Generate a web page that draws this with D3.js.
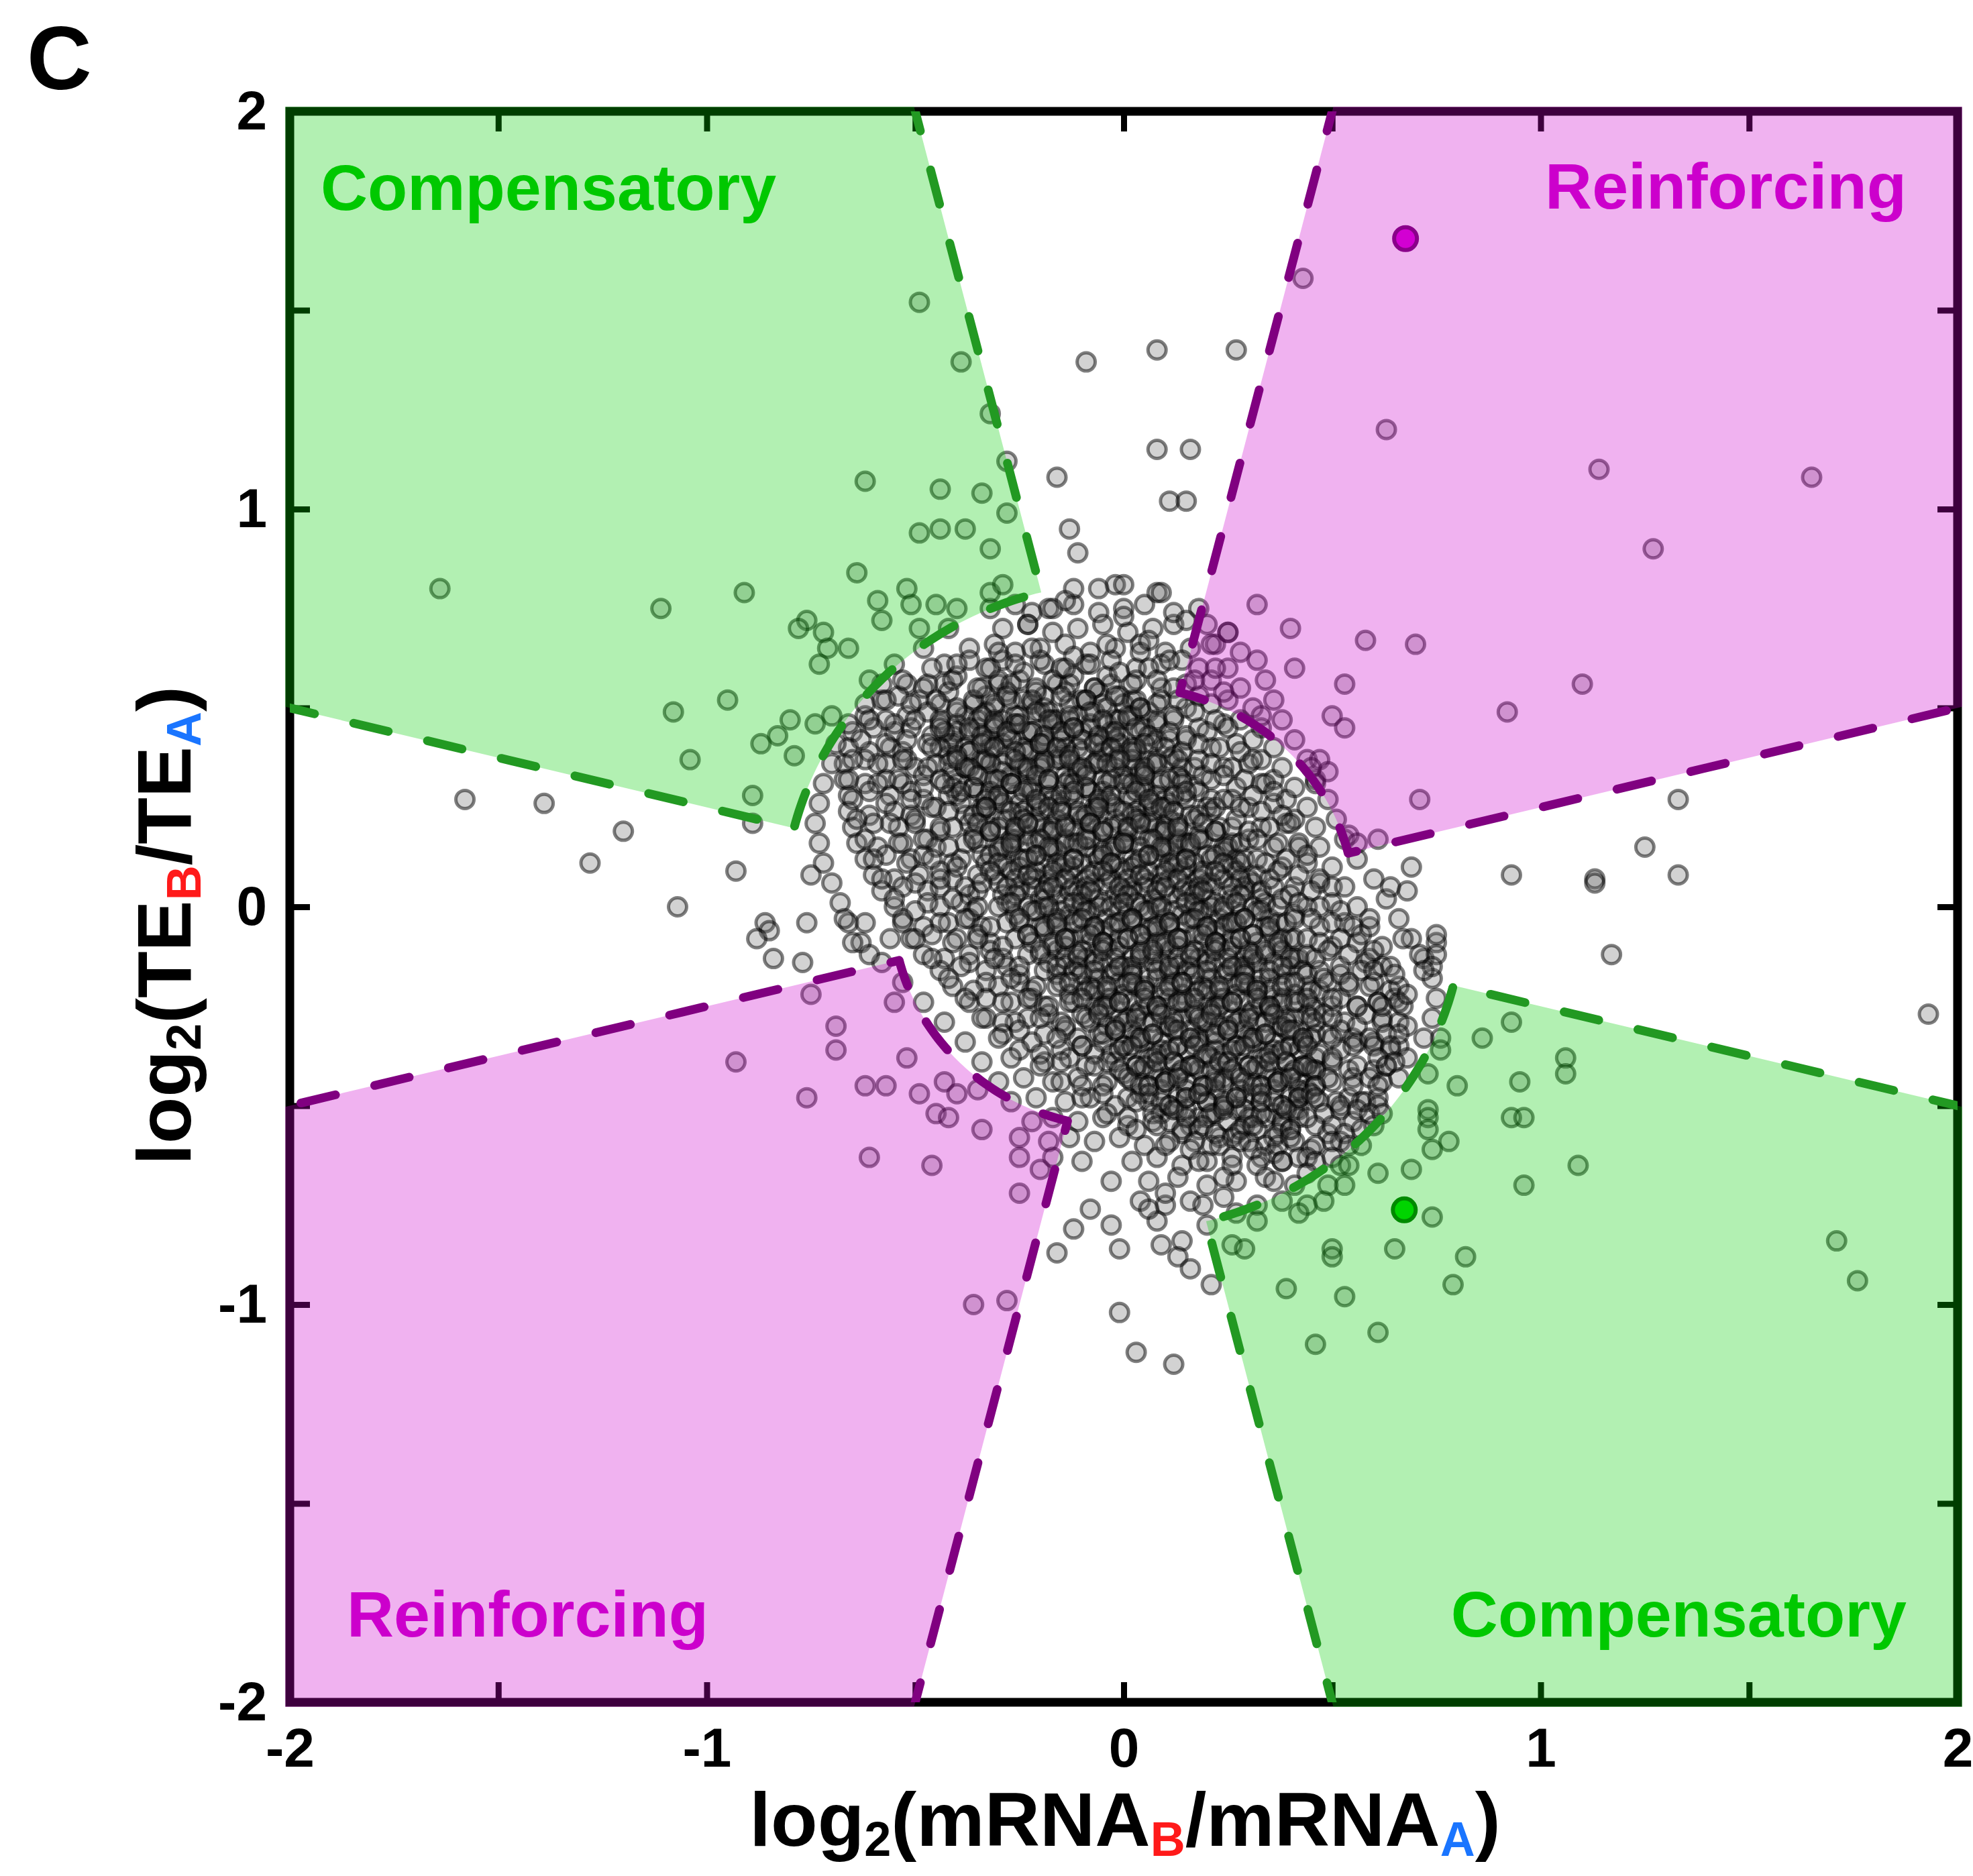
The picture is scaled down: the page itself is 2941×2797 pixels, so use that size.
<!DOCTYPE html>
<html>
<head>
<meta charset="utf-8">
<script src="https://cdn.jsdelivr.net/npm/d3@7"></script>
<style>
  body { margin: 0; background: #fff; }
  text { font-family: "Liberation Sans", Arial, sans-serif; font-weight: bold; }
</style>
</head>
<body>
<svg width="2941" height="2797"></svg>
<script>
// genes as [log2(mRNA_B/mRNA_A), log2(TE_B/TE_A)], in hundredths of a log2 unit

// darkest band of the cloud
const cloudCore = [
  [-30,56],[-25,57],[-21,55],[-16,56],[-12,58],[-7,55],[-3,56],
  [-33,53],[-28,54],[-24,52],[-19,53],[-14,54],[-10,52],[-6,54],[-1,53],[2,52],
  [-36,51],[-31,50],[-27,52],[-22,51],[-18,49],[-13,51],[-9,52],[-4,50],[0,51],[4,50],
  [-38,48],[-33,49],[-29,47],[-25,48],[-20,49],[-16,47],[-11,48],[-7,49],[-2,47],[2,48],[6,49],
  [-40,46],[-35,45],[-31,47],[-26,46],[-22,44],[-17,46],[-13,47],[-8,45],[-4,46],[1,47],[5,45],[8,46],
  [-41,43],[-37,44],[-32,42],[-28,43],[-23,44],[-19,42],[-14,43],[-10,44],[-5,42],[-1,43],[4,44],[8,42],
  [-42,41],[-38,40],[-33,42],[-29,41],[-24,40],[-20,41],[-15,42],[-11,40],[-6,41],[-2,42],[3,40],[7,41],[11,42],
  [-42,38],[-37,39],[-33,37],[-28,38],[-24,39],[-19,37],[-15,38],[-10,39],[-6,37],[-1,38],[3,39],[8,37],[12,38],
  [-42,36],[-38,35],[-33,37],[-29,36],[-24,35],[-20,36],[-15,37],[-11,35],[-6,36],[-2,37],[3,35],[7,36],[11,37],[14,35],
  [-41,33],[-36,34],[-32,32],[-27,33],[-23,34],[-18,32],[-14,33],[-9,34],[-5,32],[0,33],[4,34],[9,32],[13,33],
  [-40,31],[-36,30],[-31,32],[-27,31],[-22,30],[-18,31],[-13,32],[-9,30],[-4,31],[0,32],[5,30],[9,31],[14,32],[17,30],
  [-40,28],[-35,29],[-31,27],[-26,28],[-22,29],[-17,27],[-13,28],[-8,29],[-4,27],[1,28],[5,29],[10,27],[14,28],[18,29],
  [-39,26],[-34,25],[-30,27],[-25,26],[-21,25],[-16,26],[-12,27],[-7,25],[-3,26],[2,27],[6,25],[11,26],[15,27],[20,25],
  [-38,23],[-34,24],[-29,22],[-25,23],[-20,24],[-16,22],[-11,23],[-7,24],[-2,22],[2,23],[7,24],[11,22],[16,23],[21,24],
  [-37,21],[-32,20],[-28,22],[-23,21],[-19,20],[-14,21],[-10,22],[-5,20],[-1,21],[4,22],[8,20],[13,21],[17,22],[23,20],
  [-36,18],[-32,19],[-27,17],[-23,18],[-18,19],[-14,17],[-9,18],[-5,19],[0,17],[4,18],[9,19],[13,17],[18,18],[22,19],
  [-35,16],[-30,15],[-26,17],[-21,16],[-17,15],[-12,16],[-8,17],[-3,15],[1,16],[6,17],[10,15],[15,16],[19,17],[24,15],[26,16],
  [-34,13],[-30,14],[-25,12],[-21,13],[-16,14],[-12,12],[-7,13],[-3,14],[2,12],[6,13],[11,14],[15,12],[20,13],[24,14],[27,12],
  [-33,11],[-28,10],[-24,12],[-19,11],[-15,10],[-10,11],[-6,12],[-1,10],[3,11],[8,12],[12,10],[17,11],[21,12],[26,10],[28,11],
  [-31,8],[-27,9],[-22,7],[-18,8],[-13,9],[-9,7],[-4,8],[0,9],[5,7],[9,8],[14,9],[18,7],[23,8],[27,9],[30,7],
  [-30,6],[-25,5],[-21,7],[-16,6],[-12,5],[-7,6],[-3,7],[2,5],[6,6],[11,7],[15,5],[20,6],[24,7],[29,5],[31,6],
  [-29,3],[-25,4],[-20,2],[-16,3],[-11,4],[-7,2],[-2,3],[2,4],[7,2],[11,3],[16,4],[20,2],[25,3],[29,4],[33,2],
  [-28,1],[-23,0],[-19,2],[-14,1],[-10,0],[-5,1],[-1,2],[4,0],[8,1],[13,2],[17,0],[22,1],[26,2],[31,0],[34,1],
  [-26,-2],[-22,-1],[-17,-3],[-13,-2],[-8,-1],[-4,-3],[1,-2],[5,-1],[10,-3],[14,-2],[19,-1],[23,-3],[28,-2],[32,-1],[35,-3],
  [-25,-4],[-20,-5],[-16,-3],[-11,-4],[-7,-5],[-2,-4],[2,-3],[7,-5],[11,-4],[16,-3],[20,-5],[25,-4],[29,-3],[34,-5],[37,-4],
  [-23,-7],[-19,-6],[-14,-8],[-10,-7],[-5,-6],[-1,-8],[4,-7],[8,-6],[13,-8],[17,-7],[22,-6],[26,-8],[31,-7],[35,-6],[38,-8],
  [-22,-9],[-17,-10],[-13,-8],[-8,-9],[-4,-10],[1,-8],[5,-9],[10,-10],[14,-8],[19,-9],[23,-10],[28,-8],[32,-9],[37,-10],[40,-8],
  [-20,-12],[-16,-11],[-11,-13],[-7,-12],[-2,-11],[2,-13],[7,-12],[11,-11],[16,-13],[20,-12],[25,-11],[29,-13],[34,-12],[38,-11],[41,-13],
  [-18,-14],[-14,-15],[-9,-13],[-5,-14],[0,-15],[4,-13],[9,-14],[13,-15],[18,-13],[22,-14],[27,-15],[31,-13],[36,-14],[40,-15],[42,-13],
  [-16,-17],[-12,-16],[-7,-18],[-3,-17],[2,-16],[6,-18],[11,-17],[15,-16],[20,-18],[24,-17],[29,-16],[33,-18],[38,-17],[43,-16],
  [-15,-19],[-10,-20],[-6,-18],[-1,-19],[3,-20],[8,-18],[12,-19],[17,-20],[21,-18],[26,-19],[30,-20],[35,-18],[39,-19],[44,-20],
  [-13,-22],[-9,-21],[-4,-23],[0,-22],[5,-21],[9,-23],[14,-22],[18,-21],[23,-23],[27,-22],[32,-21],[36,-23],[41,-22],[45,-21],
  [-12,-24],[-7,-25],[-3,-23],[2,-24],[6,-25],[11,-23],[15,-24],[20,-25],[24,-23],[29,-24],[33,-25],[38,-23],[42,-24],[45,-25],
  [-10,-27],[-6,-26],[-1,-28],[3,-27],[8,-26],[12,-28],[17,-27],[21,-26],[26,-28],[30,-27],[35,-26],[39,-28],[44,-27],[46,-26],
  [-8,-29],[-4,-30],[1,-28],[5,-29],[10,-30],[14,-28],[19,-29],[23,-30],[28,-28],[32,-29],[37,-30],[41,-28],[46,-29],
  [-6,-32],[-2,-31],[3,-33],[7,-32],[12,-31],[16,-33],[21,-32],[25,-31],[30,-33],[34,-32],[39,-31],[43,-33],[46,-32],
  [-5,-34],[0,-35],[4,-33],[9,-34],[13,-35],[18,-33],[22,-34],[27,-35],[31,-33],[36,-34],[40,-35],[45,-33],
  [-3,-37],[1,-36],[6,-38],[10,-37],[15,-36],[19,-38],[24,-37],[28,-36],[33,-38],[37,-37],[42,-36],[46,-38],
  [-2,-39],[3,-40],[7,-38],[12,-39],[16,-40],[21,-38],[25,-39],[30,-40],[34,-38],[39,-39],[43,-40],[46,-41],
  [0,-42],[4,-41],[9,-43],[13,-42],[18,-41],[22,-43],[27,-42],[31,-41],[36,-43],[40,-42],[45,-41],
  [2,-44],[6,-45],[11,-43],[15,-44],[20,-45],[24,-43],[29,-44],[33,-45],[38,-43],[42,-44],[44,-46],
  [4,-47],[9,-46],[13,-48],[18,-47],[22,-46],[27,-48],[31,-47],[36,-46],[40,-48],[43,-47],
  [6,-49],[11,-50],[15,-48],[20,-49],[24,-50],[29,-48],[33,-49],[38,-50],[42,-48],
  [9,-52],[13,-51],[18,-53],[22,-52],[27,-51],[31,-53],[36,-52],[41,-51],
  [11,-54],[16,-55],[20,-53],[25,-54],[29,-55],[34,-53],[38,-54],[40,-56],
  [14,-57],[18,-56],[23,-58],[27,-57],[32,-56],[36,-58],[38,-55],
  [17,-59],[21,-60],[26,-58],[30,-59],[34,-60],[36,-62]
];

// heaviest overlap, along the falling diagonal
const cloudDense = [
  [-44,46],[-40,44],[-35,47],[-31,45],[-26,46],[-22,44],[-17,47],[-12,45],[-8,46],[-3,44],[-1,47],
  [-41,41],[-37,39],[-32,40],[-27,42],[-23,39],[-19,41],[-14,40],[-10,42],[-5,39],[-1,41],[2,40],
  [-38,35],[-34,37],[-29,34],[-25,36],[-20,35],[-16,37],[-11,34],[-7,36],[-2,35],[2,37],[5,34],
  [-36,30],[-32,29],[-27,31],[-23,30],[-18,28],[-14,31],[-9,30],[-5,29],[0,31],[4,30],[8,28],
  [-33,25],[-29,26],[-24,24],[-20,26],[-15,25],[-11,24],[-6,26],[-2,25],[3,24],[7,26],[10,25],
  [-30,20],[-26,19],[-21,21],[-17,20],[-12,19],[-8,21],[-3,20],[1,19],[6,21],[10,20],[13,19],
  [-27,15],[-23,16],[-18,14],[-14,16],[-9,15],[-5,14],[0,16],[4,15],[9,14],[13,16],[16,15],
  [-25,10],[-21,9],[-16,11],[-12,10],[-7,9],[-3,11],[2,10],[6,9],[11,11],[15,10],[19,9],
  [-22,5],[-18,6],[-13,4],[-9,5],[-4,6],[0,4],[5,5],[9,6],[14,4],[18,5],[21,6],
  [-19,0],[-15,-1],[-10,1],[-6,0],[-1,-1],[3,1],[8,0],[12,-1],[17,1],[21,0],[24,-1],
  [-16,-5],[-12,-4],[-7,-6],[-3,-5],[2,-4],[6,-6],[11,-5],[15,-4],[20,-6],[24,-5],[27,-4],
  [-14,-10],[-10,-11],[-5,-9],[-1,-10],[4,-11],[8,-9],[13,-10],[17,-11],[22,-9],[26,-10],[30,-11],
  [-11,-15],[-7,-14],[-2,-16],[2,-15],[7,-14],[11,-16],[16,-15],[20,-14],[25,-16],[29,-15],[32,-14],
  [-8,-20],[-4,-21],[1,-19],[5,-20],[10,-21],[14,-19],[19,-20],[23,-21],[28,-19],[32,-20],[35,-21],
  [-5,-25],[-1,-24],[4,-26],[8,-25],[13,-24],[17,-26],[22,-25],[26,-24],[31,-26],[35,-25],[38,-24],
  [-2,-30],[2,-31],[7,-29],[11,-30],[16,-31],[20,-29],[25,-30],[29,-31],[34,-29],[38,-30],[41,-31],
  [0,-35],[4,-34],[9,-36],[13,-35],[18,-34],[22,-36],[27,-35],[31,-34],[36,-36],[40,-35],[43,-34],
  [3,-40],[7,-41],[12,-39],[16,-40],[21,-41],[25,-39],[30,-40],[34,-41],[39,-39],[43,-40],[46,-41],
  [6,-45],[10,-44],[15,-46],[19,-45],[24,-44],[28,-46],[33,-45],[37,-44],[42,-46],[46,-45],
  [11,-50],[15,-51],[20,-49],[24,-50],[29,-51],[33,-49],[38,-50],[42,-51],[47,-49]
];

// broad dense body of the cloud
const cloudBody = [
  [-33,60],[-29,62],[-24,59],[-19,61],
  [-43,56],[-40,58],[-34,55],[-30,57],[-27,56],[-21,54],[-17,57],[-13,56],[-7,55],[-4,58],
  [-49,52],[-44,51],[-42,54],[-36,52],[-31,51],[-28,53],[-22,52],[-19,50],[-15,53],[-9,52],[-5,51],[-2,53],[3,52],
  [-52,48],[-47,49],[-44,47],[-40,49],[-34,48],[-31,46],[-26,48],[-21,49],[-18,47],[-13,48],[-8,49],[-5,47],[1,48],[4,50],[8,47],
  [-55,44],[-51,45],[-46,43],[-43,44],[-37,45],[-34,43],[-28,44],[-25,46],[-19,43],[-15,44],[-12,45],[-6,43],[-2,44],[3,45],[6,43],[11,44],
  [-56,40],[-53,39],[-47,41],[-44,40],[-40,38],[-34,41],[-31,40],[-26,39],[-20,41],[-16,40],[-13,38],[-7,41],[-3,40],[2,39],[5,41],[10,40],[14,39],
  [-57,36],[-52,37],[-50,35],[-45,36],[-40,37],[-37,35],[-32,36],[-26,37],[-23,35],[-19,36],[-13,37],[-10,35],[-4,36],[-1,37],[5,35],[8,36],[13,37],[17,35],
  [-57,32],[-53,31],[-48,33],[-44,32],[-41,30],[-35,33],[-30,32],[-27,31],[-21,33],[-18,32],[-12,31],[-9,33],[-3,32],[2,31],[5,33],[11,32],[14,31],[19,33],
  [-56,28],[-51,29],[-48,27],[-42,28],[-39,29],[-33,27],[-30,28],[-24,29],[-21,27],[-15,28],[-12,29],[-6,27],[-3,28],[3,29],[6,27],[12,28],[15,29],[21,27],
  [-55,24],[-51,23],[-45,25],[-42,24],[-36,23],[-33,25],[-27,24],[-24,22],[-18,25],[-15,24],[-9,23],[-6,25],[0,24],[3,22],[9,25],[12,24],[18,23],[22,25],
  [-54,20],[-50,21],[-44,19],[-41,20],[-35,21],[-32,19],[-26,20],[-23,21],[-17,19],[-14,20],[-8,21],[-5,19],[1,20],[4,21],[10,19],[13,20],[19,21],[22,19],[26,20],
  [-53,16],[-47,17],[-45,15],[-38,16],[-36,17],[-29,15],[-27,16],[-20,17],[-18,15],[-11,16],[-9,17],[-2,15],[0,16],[7,17],[9,15],[16,16],[18,17],[25,15],[28,16],
  [-51,12],[-48,13],[-41,11],[-39,12],[-32,13],[-30,11],[-23,12],[-21,13],[-14,11],[-12,12],[-5,13],[-3,11],[4,12],[6,13],[13,11],[15,12],[22,13],[24,11],[29,12],
  [-49,8],[-44,9],[-41,7],[-35,8],[-32,9],[-26,7],[-23,8],[-17,9],[-14,7],[-8,8],[-5,9],[1,7],[4,8],[10,9],[13,7],[19,8],[22,9],[28,7],[32,8],
  [-47,4],[-44,5],[-37,3],[-35,4],[-28,5],[-26,3],[-19,4],[-17,5],[-10,3],[-8,4],[-1,5],[1,3],[8,4],[10,5],[17,3],[19,4],[26,5],[28,3],[33,4],[36,5],
  [-44,0],[-39,1],[-36,-1],[-30,0],[-27,1],[-21,-1],[-18,0],[-12,1],[-9,-1],[-3,0],[0,1],[6,-1],[9,0],[15,1],[18,-1],[24,0],[27,1],[33,-1],[37,0],
  [-42,-4],[-37,-3],[-34,-5],[-28,-4],[-25,-3],[-19,-5],[-16,-4],[-10,-3],[-7,-5],[-1,-4],[2,-3],[8,-5],[11,-4],[17,-3],[20,-5],[26,-4],[29,-3],[35,-5],[39,-4],[41,-2],
  [-40,-8],[-35,-7],[-32,-9],[-26,-8],[-23,-7],[-17,-9],[-14,-8],[-8,-7],[-5,-9],[1,-8],[4,-7],[10,-9],[13,-8],[19,-7],[22,-9],[28,-8],[31,-7],[37,-9],[41,-8],
  [-37,-12],[-32,-11],[-29,-13],[-23,-12],[-20,-11],[-14,-13],[-11,-12],[-5,-11],[-2,-13],[4,-12],[7,-11],[13,-13],[16,-12],[22,-11],[25,-13],[31,-12],[34,-11],[40,-13],[44,-12],
  [-33,-16],[-28,-15],[-25,-17],[-19,-16],[-16,-15],[-10,-17],[-7,-16],[-1,-15],[2,-17],[8,-16],[11,-15],[17,-17],[20,-16],[26,-15],[29,-17],[35,-16],[38,-15],[44,-17],[47,-16],
  [-30,-20],[-25,-19],[-22,-21],[-16,-20],[-13,-19],[-7,-21],[-4,-20],[2,-19],[5,-21],[11,-20],[14,-19],[20,-21],[23,-20],[29,-19],[32,-21],[38,-20],[41,-19],[47,-21],[49,-19],
  [-27,-24],[-22,-23],[-19,-25],[-13,-24],[-10,-23],[-4,-25],[-1,-24],[5,-23],[8,-25],[14,-24],[17,-23],[23,-25],[26,-24],[32,-23],[35,-25],[41,-24],[44,-23],[50,-25],[52,-23],
  [-23,-28],[-18,-27],[-15,-29],[-9,-28],[-6,-27],[0,-29],[3,-28],[9,-27],[12,-29],[18,-28],[21,-27],[27,-29],[30,-28],[36,-27],[39,-29],[45,-28],[48,-27],[53,-29],
  [-19,-32],[-14,-31],[-11,-33],[-5,-32],[-2,-31],[4,-33],[7,-32],[13,-31],[16,-33],[22,-32],[25,-31],[31,-33],[34,-32],[40,-31],[43,-33],[49,-32],[52,-31],[55,-33],
  [-15,-36],[-10,-35],[-7,-37],[-1,-36],[2,-35],[8,-37],[11,-36],[17,-35],[20,-37],[26,-36],[29,-35],[35,-37],[38,-36],[44,-35],[47,-37],[52,-36],[56,-34],
  [-9,-40],[-4,-39],[-1,-41],[5,-40],[8,-39],[14,-41],[17,-40],[23,-39],[26,-41],[32,-40],[35,-39],[41,-41],[44,-40],[50,-39],[54,-41],
  [-4,-44],[1,-43],[4,-45],[10,-44],[13,-43],[19,-45],[22,-44],[28,-43],[31,-45],[37,-44],[40,-43],[46,-45],[50,-44],[55,-43],
  [1,-48],[6,-47],[9,-49],[15,-48],[18,-47],[24,-49],[27,-48],[33,-47],[36,-49],[42,-48],[45,-47],[51,-49],[54,-48],
  [7,-52],[12,-51],[15,-53],[21,-52],[24,-51],[30,-53],[33,-52],[39,-51],[42,-53],[48,-52],[52,-51],
  [14,-56],[19,-55],[22,-57],[28,-56],[31,-55],[37,-57],[40,-56],[46,-55],[49,-57],
  [23,-60],[28,-59],[31,-61],[37,-60],[41,-59],[45,-61],
  [33,-63],[38,-64],[42,-63]
];

// looser ring around the body
const cloudMiddle = [
  [-18,75],[-12,76],[-6,74],[0,75],[5,76],
  [-29,70],[-23,71],[-17,69],[-11,70],[-5,71],[1,69],[7,70],[12,71],
  [-37,65],[-31,66],[-26,64],[-20,65],[-14,66],[-8,64],[-2,65],[4,66],[10,64],[16,65],
  [-43,61],[-37,62],[-32,60],[-26,61],[-20,62],[-15,60],[-9,61],[-3,62],[3,60],[9,61],[14,62],[18,60],
  [-47,56],[-41,57],[-35,55],[3,57],[9,55],[15,56],[21,57],
  [-51,51],[-45,52],[-40,50],[9,52],[15,50],[21,51],[25,52],
  [-55,46],[-50,47],[-44,45],[12,47],[18,45],[24,46],[28,47],
  [-57,41],[-52,42],[-46,40],[15,42],[21,40],[27,41],[31,42],
  [-59,36],[-53,37],[-47,35],[18,37],[24,35],[30,36],[33,37],
  [-59,31],[-54,32],[-48,30],[-43,31],[21,32],[27,30],[33,31],[36,32],
  [-57,26],[-51,27],[-46,25],[24,27],[30,25],[36,26],[39,27],
  [-56,21],[-50,22],[-44,20],[27,22],[33,20],[39,21],[41,22],
  [-54,16],[-48,17],[-42,15],[30,17],[36,15],[42,16],
  [-52,11],[-46,12],[-40,10],[32,12],[38,10],[44,11],
  [-50,6],[-44,7],[-38,5],[-34,6],[35,7],[41,5],[47,6],
  [-47,1],[-41,2],[-35,0],[38,2],[44,0],[50,1],
  [-44,-4],[-38,-3],[-32,-5],[41,-3],[47,-5],[53,-4],
  [-41,-9],[-35,-8],[-29,-10],[44,-8],[50,-10],[56,-9],
  [-37,-14],[-31,-13],[-25,-15],[46,-13],[52,-15],[58,-14],
  [-33,-19],[-27,-18],[-21,-20],[48,-18],[54,-20],[60,-19],
  [-29,-24],[-23,-23],[-18,-25],[50,-23],[56,-25],[61,-24],
  [-26,-29],[-20,-28],[-14,-30],[50,-28],[56,-30],[62,-29],
  [-22,-34],[-16,-33],[-10,-35],[50,-33],[55,-35],[60,-34],
  [-19,-39],[-13,-38],[-7,-40],[50,-38],[56,-40],
  [-17,-44],[-11,-43],[-5,-45],[49,-43],[55,-45],
  [-14,-49],[-8,-48],[-2,-50],[3,-49],[46,-48],[52,-50],[57,-49],
  [-11,-54],[-5,-53],[1,-55],[7,-54],[44,-53],[50,-55],[55,-54],
  [-7,-59],[-1,-58],[5,-60],[11,-59],[40,-58],[46,-60],[52,-59],
  [2,-64],[8,-63],[14,-65],[20,-64],[26,-63],[32,-65],[38,-64],[44,-63],
  [6,-69],[13,-68],[20,-70],[27,-69],[34,-68],[41,-70],
  [16,-74],[24,-73],[32,-75],[38,-74],
  [-30,64],[-22,65],[-12,63],[-4,66],[4,64],[-46,60],[-40,61],[-14,60],[-8,61],[-1,59],[6,60],
  [-52,56],[-48,55],[2,56],[8,57],[12,55],[-58,52],[-54,53],[8,51],[13,52],[18,53],
  [-62,48],[-57,47],[12,48],[17,49],[22,47],[-65,44],[-60,45],[15,43],[20,44],[25,45],
  [-66,40],[-61,39],[18,41],[23,40],[28,39],[-67,36],[-62,37],[21,36],[26,35],[31,37],
  [-67,32],[-62,31],[24,33],[29,32],[34,31],[-66,28],[-61,29],[26,27],[31,28],[36,29],
  [-66,24],[-61,23],[28,25],[33,24],[38,23],[-65,20],[-60,21],[30,19],[35,20],[40,21],
  [-64,16],[-59,15],[32,17],[37,16],[42,15],[-62,12],[-57,13],[34,11],[39,12],[44,13],
  [-60,8],[-55,7],[37,9],[42,8],[47,7],[-58,4],[-53,5],[40,3],[45,4],[50,5],
  [-55,0],[-50,-1],[42,1],[47,0],[52,-1],[-53,-4],[-48,-5],[45,-3],[50,-4],[55,-5],
  [-51,-8],[-46,-7],[47,-9],[52,-8],[57,-7],[-48,-12],[-43,-13],[49,-11],[54,-12],[59,-13],
  [-44,-16],[-39,-15],[52,-17],[57,-16],[62,-15],[-41,-20],[-36,-21],[54,-19],[59,-20],[64,-21],
  [-37,-24],[-33,-23],[56,-25],[61,-24],[65,-23],[-33,-28],[-29,-29],[58,-27],[62,-28],[66,-29],
  [-29,-32],[-25,-31],[59,-33],[63,-32],[-25,-36],[-20,-37],[60,-35],[64,-36],
  [-20,-40],[-15,-39],[60,-41],[63,-40],[-15,-44],[-10,-45],[59,-43],[62,-44],
  [-10,-48],[-5,-47],[58,-49],[61,-48],[-4,-52],[1,-53],[56,-51],[59,-52],
  [3,-56],[8,-55],[53,-57],[57,-56],[10,-60],[16,-61],[50,-59],[54,-60],
  [18,-64],[26,-65],[46,-64],[50,-63],[24,-68],[36,-69],[44,-67]
];

// sparse fringe of the cloud
const cloudFringe = [
  [-12,80],[-2,81],[8,79],[-32,75],[-26,76],[12,74],[18,75],
  [-42,70],[20,71],[25,69],[-48,65],[22,66],[28,64],
  [-55,61],[25,60],[32,62],[-58,56],[-53,57],[28,55],[34,57],
  [-62,51],[-57,52],[31,50],[36,52],[-66,46],[-61,47],[33,45],[38,47],
  [-69,41],[-63,42],[36,40],[41,42],[-70,36],[-65,37],[38,35],[44,37],
  [-72,31],[-66,32],[41,30],[46,32],[-73,26],[-65,27],[44,25],[49,27],
  [-74,21],[-64,22],[46,20],[51,22],[-73,16],[-62,17],[47,15],[53,17],
  [-72,11],[-60,12],[50,10],[56,12],[-70,6],[-58,7],[53,5],[60,7],
  [-68,1],[-55,2],[56,0],[63,2],[-66,-4],[-53,-3],[59,-5],[66,-3],
  [-63,-9],[-50,-8],[62,-10],[69,-8],[-58,-14],[-46,-13],[64,-15],[72,-13],
  [-53,-19],[-42,-18],[66,-20],[74,-18],[-48,-24],[-38,-23],[67,-25],[75,-23],
  [-43,-29],[-34,-28],[68,-30],[74,-28],[-38,-34],[-30,-33],[66,-35],[72,-33],
  [-34,-39],[-27,-38],[63,-40],[68,-38],[-30,-44],[-24,-43],[61,-45],[66,-43],
  [-27,-49],[-21,-48],[61,-50],[-22,-54],[-17,-53],[60,-55],
  [-18,-59],[-13,-58],[57,-60],[-10,-64],[52,-65],[-3,-69],[49,-70],
  [4,-74],[10,-75],[44,-75],[8,-79],[20,-80],[32,-79],[14,-84],[26,-85]
];

// isolated genes away from the cloud
const outliers = [
  [-49,152],[-39,137],[-32,124],[-28,112],[-62,107],[-44,105],[-34,104],[-28,99],
  [-49,94],[-44,95],[-38,95],[-32,90],[-64,84],[-52,80],[-59,77],[-58,72],[-51,76],
  [-45,76],[-40,75],[-32,79],[-29,81],[-164,80],[-111,75],[-91,79],[-76,72],[-78,70],
  [-72,69],[-71,65],[-66,65],[-73,61],[-49,70],[-61,57],[-95,52],[-108,49],[-104,37],
  [-80,47],[-83,43],[-87,41],[-79,38],[-74,46],[-70,48],[-89,28],[-89,21],
  [-158,27],[-139,26],[-120,19],[-128,11],[-93,9],[-107,0],[-75,8],[-86,-4],[-85,-6],
  [-88,-8],[-84,-13],[-77,-14],[-76,-4],[-65,-9],[-67,-3],[-62,-4],[-56,-8],[-61,-12],
  [-75,-22],[-55,-24],[-69,-30],[-69,-36],[-93,-39],[-52,-38],[-76,-48],[-62,-45],
  [-57,-45],[-49,-47],[-43,-44],[-40,-47],[-45,-52],[-42,-53],[-34,-56],[-35,-46],
  [-61,-63],[-46,-65],[-25,-58],[-25,-63],[-25,-72],[-36,-100],[-28,-99],[-20,-66],[-17,-63],
  [-3,-80],[-1,-86],[6,-76],[10,-72],[9,-85],[13,-88],[16,-91],[21,-95],[-1,-102],
  [3,-112],[12,-115],[-16,-87],[-12,-81],[-8,-76],[19,-75],[27,-77],[29,-86],[42,-77],
  [93,-29],[76,-33],[86,-33],[76,-36],[106,-38],[106,-42],[73,-42],[80,-45],[95,-44],
  [73,-51],[73,-53],[73,-56],[93,-53],[96,-53],[78,-59],[74,-61],[62,-52],[109,-65],
  [96,-70],[69,-66],[61,-67],[54,-65],[53,-70],[48,-74],[74,-78],[65,-86],[50,-86],
  [50,-88],[82,-88],[79,-95],[53,-98],[171,-84],[176,-94],[46,-110],[61,-107],[39,-96],
  [133,27],[125,15],[93,8],[113,7],[113,6],[133,8],[117,-12],[193,-27],[69,10],[64,5],
  [68,4],[67,-8],[71,-12],[75,-9],[75,-12],[74,-15],[65,-17],[60,-16],[60,-11],[59,-3],
  [66,-24],[62,-25],[66,-32],[64,-35],[61,-38],[65,-39],[75,-7],[72,-16],[68,-22],
  [43,158],[63,120],[114,110],[165,108],[127,90],[32,76],[40,70],[58,67],[70,66],
  [41,60],[53,56],[110,56],[50,48],[53,45],[92,49],[47,37],[49,34],[71,27],
  [25,69],[21,66],[22,60],[17,57],[24,54],[33,48],[45,35],[46,31],[54,18],[61,17],[56,16],
  [-9,137],[8,140],[27,140],[8,115],[16,115],[11,102],[15,102],[-16,108],[-13,95],
  [-11,89],[0,81],[9,79],[-6,80],[0,73],[15,72],[6,67],[11,62],[-14,77],[-17,75],
  [-22,74],[-23,71]
];

// the two highlighted genes
const highlighted = [
  { x: 0.676, y: 1.68, kind: 'reinforcing' },
  { x: 0.673, y: -0.762, kind: 'compensatory' }
];

const tickValues = [-2, -1.5, -1, -0.5, 0, 0.5, 1, 1.5, 2];
const boundarySlopes = [0.25, 4];
const regionRadius = { reinforcing: 0.555, compensatory: 0.815 };
const regions = [
  { name: 'Compensatory', kind: 'compensatory', quadrant: [-1, 1] },
  { name: 'Reinforcing', kind: 'reinforcing', quadrant: [1, 1] },
  { name: 'Reinforcing', kind: 'reinforcing', quadrant: [-1, -1] },
  { name: 'Compensatory', kind: 'compensatory', quadrant: [1, -1] }
];

const fillColor = { reinforcing: '#cc00cc', compensatory: '#00cc00' };
const lineColor = { reinforcing: '#800080', compensatory: '#229922' };
const textColor = { reinforcing: '#cc00cc', compensatory: '#00c800' };

const plotLeft = 432, plotRight = 2918, plotTop = 166, plotBottom = 2538;

const xScale = d3.scaleLinear().domain([-2, 2]).range([plotLeft, plotRight]);
const yScale = d3.scaleLinear().domain([-2, 2]).range([plotBottom, plotTop]);

const svg = d3.select('svg');
const defs = svg.append('defs');

defs.append('clipPath').attr('id', 'fillClip')
  .append('rect')
  .attr('x', plotLeft - 7).attr('y', plotTop - 7)
  .attr('width', plotRight - plotLeft + 14).attr('height', plotBottom - plotTop + 14);

defs.append('clipPath').attr('id', 'plotClip')
  .append('rect')
  .attr('x', plotLeft).attr('y', plotTop)
  .attr('width', plotRight - plotLeft).attr('height', plotBottom - plotTop);

// frame
svg.append('rect')
  .attr('x', plotLeft).attr('y', plotTop)
  .attr('width', plotRight - plotLeft).attr('height', plotBottom - plotTop)
  .attr('fill', 'none')
  .attr('stroke', '#000')
  .attr('stroke-width', 13);

const label = d => (Number.isInteger(d) ? String(d) : '');

function styleAxis(g) {
  g.select('.domain').remove();
  g.selectAll('.tick line').attr('stroke', '#000').attr('stroke-width', 9);
  g.selectAll('.tick text')
    .attr('fill', '#000')
    .attr('font-size', 82)
    .attr('font-family', '"Liberation Sans", Arial, sans-serif')
    .attr('font-weight', 'bold');
}

svg.append('g')
  .attr('transform', 'translate(0,' + plotBottom + ')')
  .call(d3.axisBottom(xScale).tickValues(tickValues).tickSizeInner(-30).tickSizeOuter(0)
    .tickPadding(38).tickFormat(label))
  .call(styleAxis);

svg.append('g')
  .attr('transform', 'translate(0,' + plotTop + ')')
  .call(d3.axisTop(xScale).tickValues(tickValues).tickSizeInner(-30).tickSizeOuter(0)
    .tickFormat(''))
  .call(styleAxis);

svg.append('g')
  .attr('transform', 'translate(' + plotLeft + ',0)')
  .call(d3.axisLeft(yScale).tickValues(tickValues).tickSizeInner(-30).tickSizeOuter(0)
    .tickPadding(34).tickFormat(label))
  .call(styleAxis);

svg.append('g')
  .attr('transform', 'translate(' + plotRight + ',0)')
  .call(d3.axisRight(yScale).tickValues(tickValues).tickSizeInner(-30).tickSizeOuter(0)
    .tickFormat(''))
  .call(styleAxis);

// genes
const genes = cloudCore.concat(cloudDense, cloudBody, cloudMiddle, cloudFringe, outliers)
  .map(([gx, gy]) => ({ x: gx / 100, y: gy / 100 }));

svg.append('g')
  .attr('clip-path', 'url(#plotClip)')
  .selectAll('circle')
  .data(genes)
  .enter()
  .append('circle')
  .attr('cx', d => xScale(d.x))
  .attr('cy', d => yScale(d.y))
  .attr('r', 13.5)
  .attr('fill', 'rgb(95,95,95)')
  .attr('fill-opacity', 0.28)
  .attr('stroke', '#000')
  .attr('stroke-opacity', 0.5)
  .attr('stroke-width', 5);

// region shapes: two rays through the origin and an arc of radius r
const thetaLow = Math.atan(boundarySlopes[0]);
const thetaHigh = Math.atan(boundarySlopes[1]);
const far = 4;

function boundary(region) {
  const [sx, sy] = region.quadrant;
  const r = regionRadius[region.kind];
  const pt = (rad, th) => [sx * rad * Math.cos(th), sy * rad * Math.sin(th)];
  const arc = d3.range(0, 61).map(i => pt(r, thetaHigh + (thetaLow - thetaHigh) * i / 60));
  return [pt(far, thetaHigh)].concat(arc, [pt(far, thetaLow)]);
}

const line = d3.line().x(d => xScale(d[0])).y(d => yScale(d[1]));

svg.append('g')
  .attr('clip-path', 'url(#fillClip)')
  .selectAll('path')
  .data(regions)
  .enter()
  .append('path')
  .attr('d', d => line(boundary(d).concat([[d.quadrant[0] * far, d.quadrant[1] * far]])) + 'Z')
  .attr('fill', d => fillColor[d.kind])
  .attr('fill-opacity', 0.3);

svg.append('g')
  .attr('clip-path', 'url(#plotClip)')
  .selectAll('path')
  .data(regions)
  .enter()
  .append('path')
  .attr('d', d => line(boundary(d)))
  .attr('fill', 'none')
  .attr('stroke', d => lineColor[d.kind])
  .attr('stroke-width', 13)
  .attr('stroke-linecap', 'round')
  .attr('stroke-linejoin', 'round')
  .attr('stroke-dasharray', '53,60');

svg.append('g')
  .selectAll('circle')
  .data(highlighted)
  .enter()
  .append('circle')
  .attr('cx', d => xScale(d.x))
  .attr('cy', d => yScale(d.y))
  .attr('r', 17)
  .attr('fill', d => (d.kind === 'reinforcing' ? '#d200d2' : '#00d400'))
  .attr('stroke', d => (d.kind === 'reinforcing' ? '#8a008a' : '#008a00'))
  .attr('stroke-width', 6);

// region names
const labelSpots = [
  { x: 478, y: 313, anchor: 'start' },
  { x: 2842, y: 311, anchor: 'end' },
  { x: 517, y: 2440, anchor: 'start' },
  { x: 2842, y: 2440, anchor: 'end' }
];

svg.append('g')
  .selectAll('text')
  .data(regions)
  .enter()
  .append('text')
  .attr('x', (d, i) => labelSpots[i].x)
  .attr('y', (d, i) => labelSpots[i].y)
  .attr('text-anchor', (d, i) => labelSpots[i].anchor)
  .attr('font-size', 97)
  .attr('fill', d => textColor[d.kind])
  .text(d => d.name);

// axis titles with coloured subscripts
function title(g, parts) {
  const t = g.append('text').attr('text-anchor', 'middle').attr('font-size', 114).attr('fill', '#000');
  parts.forEach(p => {
    const s = t.append('tspan').text(p.text);
    if (p.sub) {
      s.attr('font-size', 72).attr('dy', 15).attr('fill', p.color || '#000');
    } else if (p.after) {
      s.attr('dy', -15);
    }
  });
}

const xTitleParts = [
  { text: 'log' }, { text: '2', sub: true }, { text: '(mRNA', after: true },
  { text: 'B', sub: true, color: '#ff1a1a' }, { text: '/mRNA', after: true },
  { text: 'A', sub: true, color: '#1a75ff' }, { text: ')', after: true }
];
const yTitleParts = [
  { text: 'log' }, { text: '2', sub: true }, { text: '(TE', after: true },
  { text: 'B', sub: true, color: '#ff1a1a' }, { text: '/TE', after: true },
  { text: 'A', sub: true, color: '#1a75ff' }, { text: ')', after: true }
];

title(svg.append('g').attr('transform', 'translate(1677,2752)'), xTitleParts);
title(svg.append('g').attr('transform', 'translate(284,1380) rotate(-90)'), yTitleParts);

svg.append('text')
  .attr('x', 40)
  .attr('y', 133)
  .attr('font-size', 134)
  .attr('fill', '#000')
  .text('C');
</script>
</body>
</html>
